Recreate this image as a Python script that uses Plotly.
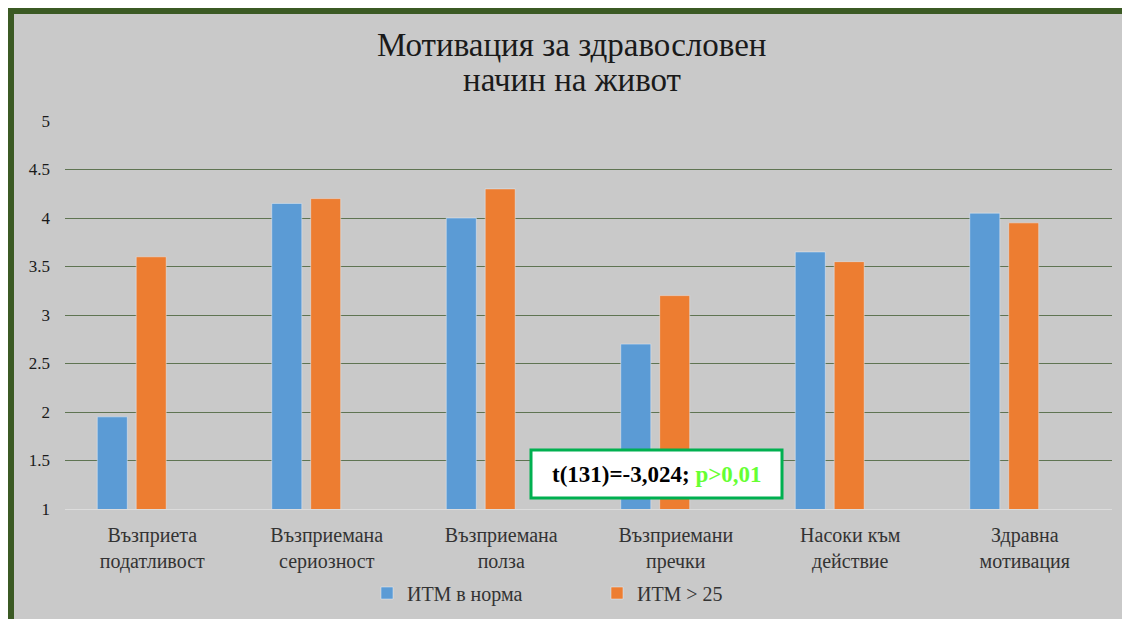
import plotly.graph_objects as go

categories = ["Възприета<br>податливост", "Възприемана<br>сериозност", "Възприемана<br>полза",
              "Възприемани<br>пречки", "Насоки към<br>действие", "Здравна<br>мотивация"]
normal_bmi = [1.95, 4.15, 4.0, 2.7, 3.65, 4.05]
over_bmi = [3.6, 4.2, 4.3, 3.2, 3.55, 3.95]
series_names = ["ИТМ в норма", "ИТМ > 25"]
y_ticks = [1, 1.5, 2, 2.5, 3, 3.5, 4, 4.5, 5]
title_lines = ["Мотивация за здравословен", "начин на живот"]
stat_text = "<b>t(131)=-3,024; <span style='color:#66ff33'>p>0,01</span></b>"

W, H = 1122, 619
L, R, T, B = 65, 10, 121, 110
pw, ph = W - L - R, H - T - B


def px(x):
    return (x - L) / pw


def py(y):
    return (H - B - y) / ph


FONT = "Liberation Serif"
fig = go.Figure()
fig.add_trace(go.Bar(x=categories, y=normal_bmi, name=series_names[0], marker_color="#5b9bd5",
                     width=0.172, offset=-0.315))
fig.add_trace(go.Bar(x=categories, y=over_bmi, name=series_names[1], marker_color="#ed7d31",
                     width=0.172, offset=-0.092))

shapes = [
    dict(type="rect", xref="paper", yref="paper", x0=px(0), x1=px(8), y0=py(H), y1=py(0),
         fillcolor="white", line_width=0, layer="above"),
    dict(type="rect", xref="paper", yref="paper", x0=px(0), x1=px(W), y0=py(8), y1=py(0),
         fillcolor="white", line_width=0, layer="above"),
    dict(type="rect", xref="paper", yref="paper", x0=px(8), x1=px(14), y0=py(H), y1=py(8),
         fillcolor="#3b5a24", line_width=0, layer="above"),
    dict(type="rect", xref="paper", yref="paper", x0=px(8), x1=px(W), y0=py(14), y1=py(8),
         fillcolor="#3b5a24", line_width=0, layer="above"),
    dict(type="rect", xref="paper", yref="paper", x0=px(531), x1=px(782), y0=py(498), y1=py(450),
         fillcolor="white", line=dict(color="#00b050", width=3), layer="above"),
]

annotations = [
    dict(xref="paper", yref="paper", x=px(572), y=py(yc), showarrow=False,
         xanchor="center", yanchor="middle", text=line,
         font=dict(size=33, color="#1a1a1a", family=FONT))
    for line, yc in zip(title_lines, [45, 80])
]
annotations.append(
    dict(xref="paper", yref="paper", x=px(657), y=py(474), showarrow=False,
         xanchor="center", yanchor="middle", text=stat_text,
         font=dict(size=23, color="black", family=FONT)))

fig.update_layout(
    width=W, height=H,
    margin=dict(l=L, r=R, t=T, b=B, autoexpand=False),
    paper_bgcolor="#c9c9c9", plot_bgcolor="#c9c9c9",
    font=dict(family=FONT, color="#404040"),
    barmode="group",
    xaxis=dict(showgrid=False, showline=True, linecolor="#dcdcdc", linewidth=1,
               tickfont=dict(size=20, color="#333333"), ticks="", automargin=False,
               ticklabelstandoff=8),
    yaxis=dict(range=[1, 5], tickvals=y_ticks, ticktext=[str(v) for v in y_ticks],
               gridcolor="#5f7452", gridwidth=1.2, zeroline=False, automargin=False,
               tickfont=dict(size=17, color="#1a1a1a"), ticklabelstandoff=14),
    legend=dict(orientation="h", x=px(367), xanchor="left", y=py(593), yanchor="middle",
                font=dict(size=20, color="#333333"), itemwidth=30, traceorder="normal",
                entrywidth=185),
    shapes=shapes,
    annotations=annotations,
    showlegend=True,
)

post = ("document.documentElement.style.overflow='hidden';"
        "document.body.style.margin='0';document.body.style.overflow='hidden';"
        "var d=document.getElementById('{plot_id}');"
        "d.style.position='fixed';d.style.top='0';d.style.left='0';")
fig.write_html("out.html", config={"displayModeBar": False}, post_script=post)
